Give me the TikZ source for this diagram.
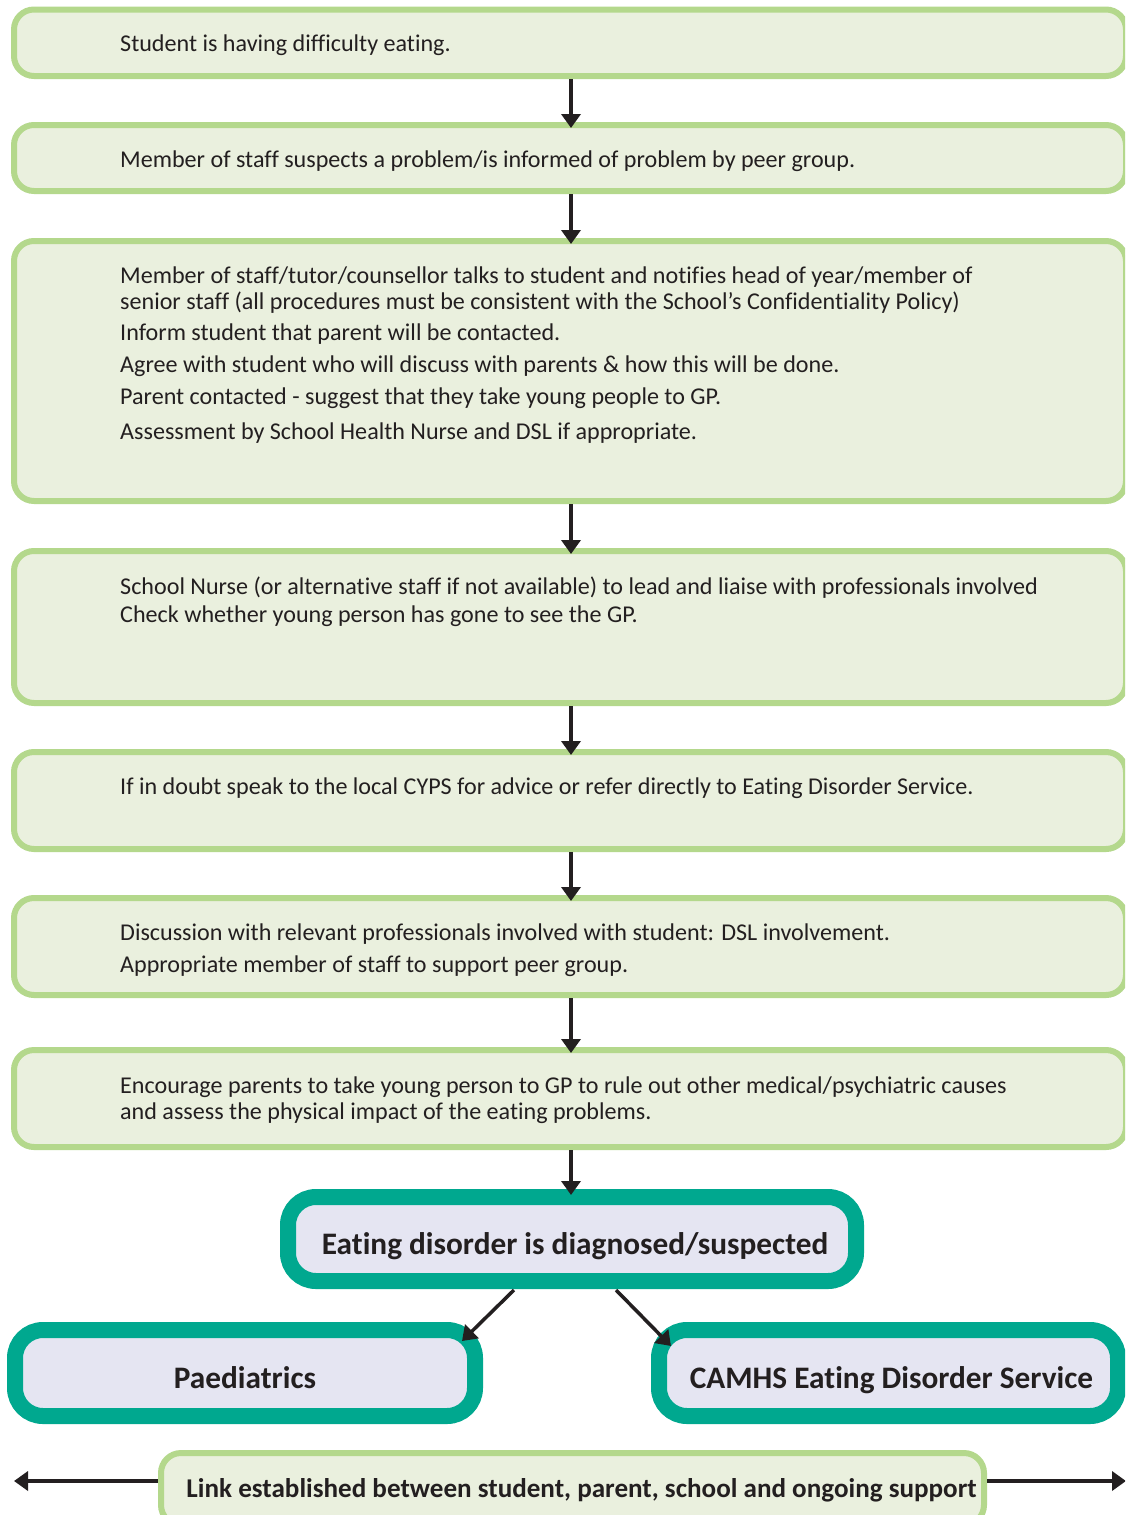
\documentclass[tikz,border=0pt]{standalone}
\usepackage{fontspec}
\setmainfont[Ligatures={NoCommon}]{Carlito}
\usetikzlibrary{arrows.meta}
\definecolor{gborder}{RGB}{180,216,140}
\definecolor{gfill}{RGB}{234,240,222}
\definecolor{teal1}{RGB}{0,168,143}
\definecolor{lav}{RGB}{229,229,242}
\definecolor{ink}{RGB}{35,31,32}
\tikzset{
  gbox/.style={draw=gborder,fill=gfill,line width=6pt,rounded corners=20pt,minimum width=1112pt,inner sep=0pt},
  tbox/.style={draw=teal1,fill=lav,line width=16pt,rounded corners=28pt,inner sep=0pt,text=ink,font=\fontsize{31.3}{36}\selectfont\bfseries},
  txt/.style={anchor=mid west,inner sep=0pt,text=ink,font=\fontsize{24.1}{28}\selectfont},
  arr/.style={draw=ink,line width=3.5pt,-{Triangle[width=19pt,length=14pt]}}
}
\newcommand{\lowr}[2]{\raisebox{-#1}[\height][\depth]{#2}}
\begin{document}
\begin{tikzpicture}[x=1pt,y=-1pt]
\clip (0,0) rectangle (1125,1515);
\fill[white] (0,0) rectangle (1125,1515);
\coordinate (ax) at (571,0);
% green boxes
\node[gbox,minimum height=66.5pt] (b1) at (570,42.75) {};
\node[gbox,minimum height=66pt] (b2) at (570,158) {};
\node[gbox,minimum height=260pt] (b3) at (570,371) {};
\node[gbox,minimum height=152pt] (b4) at (570,627) {};
\node[gbox,minimum height=97pt] (b5) at (570,800.5) {};
\node[gbox,minimum height=97pt] (b6) at (570,946.5) {};
\node[gbox,minimum height=97pt] (b7) at (570,1098.5) {};
% texts
\node[txt] (t1) at (120,49) {Student is having difficulty eating.};
\node[txt] (t2) at (120,165) {Member of staff suspects a problem/is informed of problem by peer group.};
\node[txt] (t3a) at (120,281) {Member of staff/tutor/counsellor talks to student and notifies head of year/member of};
\node[txt] (t3b) at (120,307) {senior staff (all procedures must be consistent with the School’s Confidentiality Policy)};
\node[txt] (t3c) at (120,338) {Inform student that parent will be contacted.};
\node[txt] (t3d) at (120,370) {Agree with student who will discuss with parents \& how this will be done.};
\node[txt] (t3e) at (120,402) {Parent contacted - suggest that they take young people to GP.};
\node[txt] (t3f) at (120,437) {Assessment by School Health Nurse and DSL if appropriate.};
\node[txt] (t4a) at (120,592) {School Nurse (or alternative staff if not available) to lead and liaise with professionals involved};
\node[txt] (t4b) at (120,620) {Check whether young person has gone to see the GP.};
\node[txt] (t5) at (120,792) {If in doubt speak to the local CYPS for advice or refer directly to Eating Disorder Service.};
\node[txt] (t6a) at (120,938) {Discussion with relevant professionals involved with student: DSL involvement.};
\node[txt] (t6b) at (120,970) {Appropriate member of staff to support peer group.};
\node[txt] (t7a) at (120,1091) {Encourage parents to take young person to GP to rule out other medical/psychiatric causes};
\node[txt] (t7b) at (120,1117) {and assess the physical impact of the eating problems.};
% teal boxes
\node[tbox,minimum width=568pt,minimum height=84pt] (ed) at (572,1239) {\hspace*{6pt}\lowr{7pt}{Eating disorder is diagnosed/suspected}};
\node[tbox,minimum width=460pt,minimum height=86pt] (pa) at (245,1373) {\lowr{5pt}{Paediatrics}};
\node[tbox,minimum width=459pt,minimum height=86pt] (ca) at (888.5,1373) {\hspace*{6pt}\lowr{7pt}{CAMHS Eating Disorder Service}};
% link box
\node[gbox,minimum width=823pt,minimum height=72pt,text=ink,font=\fontsize{27.1}{32}\selectfont\bfseries] (lk) at (572.5,1489) {\hspace*{18pt}\lowr{1pt}{Link established between student, parent, school and ongoing support}};
\coordinate (lend) at (14,1481);
\coordinate (rend) at (1126,1481);
% arrows
\draw[arr] (b1.south -| ax) -- ([yshift=-6pt]b2.north -| ax);
\draw[arr] (b2.south -| ax) -- ([yshift=-6pt]b3.north -| ax);
\draw[arr] (b3.south -| ax) -- ([yshift=-6pt]b4.north -| ax);
\draw[arr] (b4.south -| ax) -- ([yshift=-6pt]b5.north -| ax);
\draw[arr] (b5.south -| ax) -- ([yshift=-6pt]b6.north -| ax);
\draw[arr] (b6.south -| ax) -- ([yshift=-6pt]b7.north -| ax);
\draw[arr] (b7.south -| ax) -- ([yshift=-6pt]ed.north -| ax);
\coordinate (d1s) at (514,1290);
\coordinate (d1e) at (462,1341);
\coordinate (d2s) at (616,1290);
\coordinate (d2e) at (671,1346);
\draw[arr] (d1s) -- (d1e);
\draw[arr] (d2s) -- (d2e);
\draw[arr] (lk.west |- lend) -- (lend);
\draw[arr] (lk.east |- rend) -- (rend);
\end{tikzpicture}
\end{document}
